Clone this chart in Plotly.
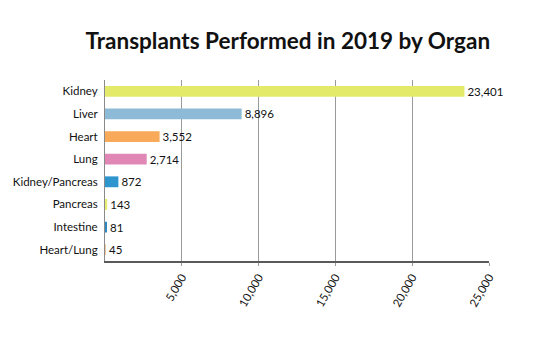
import plotly.graph_objects as go

organs = ["Kidney", "Liver", "Heart", "Lung", "Kidney/Pancreas", "Pancreas", "Intestine", "Heart/Lung"]
counts = [23401, 8896, 3552, 2714, 872, 143, 81, 45]
colors = ["#e3ea6a", "#8dbad6", "#f9a95a", "#e087b6", "#2e95cf", "#e6ec70", "#2f88c4", "#f3c8a0"]
tick_vals = [5000, 10000, 15000, 20000, 25000]
tick_text = ["5,000", "10,000", "15,000", "20,000", "25,000"]

fig = go.Figure(go.Bar(
    x=counts, y=organs, orientation="h",
    marker=dict(color=colors, line=dict(width=0)),
    width=0.48,
    text=[f"{v:,}" for v in counts], textposition="outside",
    constraintext="none",
    textfont=dict(family="Lato, sans-serif", size=11.5, color="#111"),
    cliponaxis=False,
))

fig.update_layout(
    width=535, height=350,
    margin=dict(l=105, r=46, t=80, b=89),
    paper_bgcolor="white", plot_bgcolor="white",
    showlegend=False,
    title=dict(text="<b>Transplants Performed in 2019 by Organ</b>",
               x=0.538, xanchor="center", y=0.883, yanchor="middle",
               font=dict(family="Lato, sans-serif", size=22.5, color="#111")),
    font=dict(family="Lato, sans-serif", size=11, color="#111"),
    bargap=0.5,
)
fig.update_xaxes(range=[0, 25000], tickvals=tick_vals, ticktext=tick_text,
                 tickangle=-60, showgrid=True, gridcolor="#9a9a9a", gridwidth=1,
                 showline=True, linecolor="#595959", linewidth=2,
                 ticks="outside", ticklen=3, tickcolor="#9a9a9a",
                 zeroline=False, tickfont=dict(size=11.5, color="#111"))
fig.update_yaxes(categoryorder="array", categoryarray=organs, autorange="reversed",
                 showline=True, linecolor="#8a8a8a", linewidth=1,
                 showgrid=False, ticks="", ticklen=0, ticklabelstandoff=4,
                 tickfont=dict(size=11.5, color="#111"))

fig.write_html("out.html")
